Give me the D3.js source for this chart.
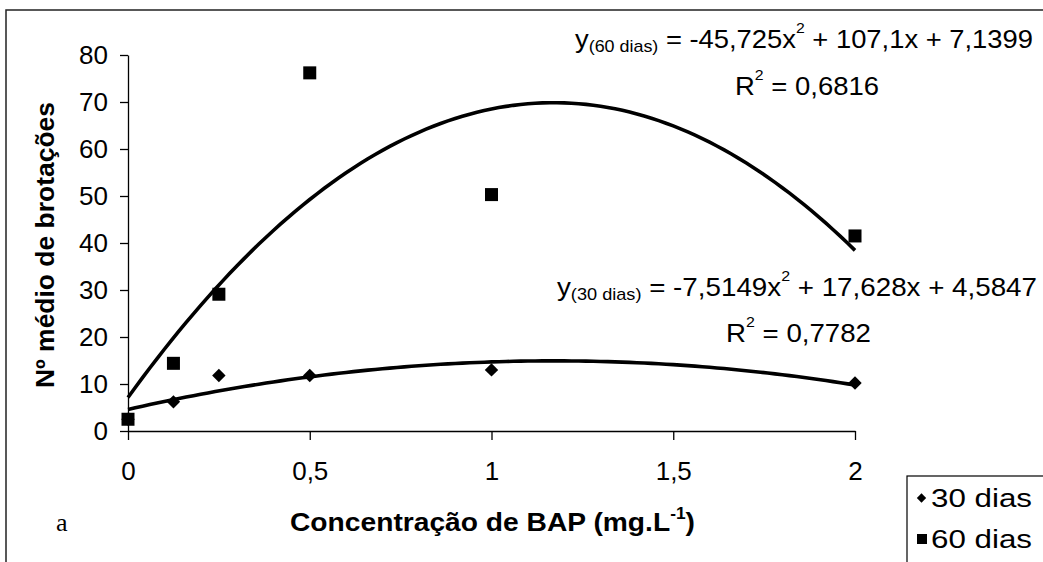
<!DOCTYPE html>
<html><head><meta charset="utf-8">
<script src="https://cdn.jsdelivr.net/npm/d3@7"></script>
<style>body{margin:0;background:#fff}svg{display:block}</style>
</head><body>
<svg id="c" width="1043" height="562"></svg>
<script>
// ---- data ----
const xValues = [0, 0.125, 0.25, 0.5, 1, 2];
const dias30 = [2.5, 6.2, 11.8, 11.8, 13.0, 10.2];
const dias60 = [2.5, 14.4, 29.1, 76.2, 50.3, 41.5];
const coef30 = [-7.5149, 17.628, 4.5847];   // a, b, c  (trendline shown on chart)
const coef60 = [-45.725, 107.1, 7.1399];
const xTicks = [0, 0.5, 1, 1.5, 2];
const xTickLabels = ["0", "0,5", "1", "1,5", "2"];
const yTicks = [0, 10, 20, 30, 40, 50, 60, 70, 80];
const seriesNames = ["30 dias", "60 dias"];

const FONT = "'Liberation Sans', Arial, sans-serif";
const svg = d3.select("#c");

const x = d3.scaleLinear().domain([0, 2]).range([128, 855]);
const y = d3.scaleLinear().domain([0, 80]).range([431, 55]);

// outer frame
svg.append("rect").attr("x", 6).attr("y", 10).attr("width", 1100).attr("height", 600)
  .attr("fill", "none").attr("stroke", "#222").attr("stroke-width", 1.5);

// axes
const gx = svg.append("g").attr("transform", `translate(0,${y(0)})`)
  .call(d3.axisBottom(x).tickValues(xTicks).tickFormat((d, i) => xTickLabels[i])
    .tickSize(9).tickSizeOuter(0).tickPadding(21.5));
const gy = svg.append("g").attr("transform", `translate(${x(0)},0)`)
  .call(d3.axisLeft(y).tickValues(yTicks).tickFormat(d3.format("d"))
    .tickSize(8).tickSizeOuter(0).tickPadding(12));
[gx, gy].forEach(g => {
  g.attr("font-family", FONT).attr("font-size", 26);
  g.selectAll("text").attr("fill", "#000");
  g.selectAll("line,path").attr("stroke", "#000").attr("stroke-width", 1.3);
});

// trendlines from the equations displayed on the chart
const xs = d3.range(0, 2.0001, 0.02);
const line = d3.line().x(d => x(d[0])).y(d => y(d[1]));
[coef30, coef60].forEach(c => {
  svg.append("path")
    .datum(xs.map(v => [v, c[0] * v * v + c[1] * v + c[2]]))
    .attr("d", line).attr("fill", "none").attr("stroke", "#000")
    .attr("stroke-width", 3.6).attr("stroke-linejoin", "round");
});

// markers
svg.append("g").selectAll("path").data(xValues.map((v, i) => [v, dias30[i]])).join("path")
  .attr("transform", d => `translate(${x(d[0])},${y(d[1])})`)
  .attr("d", d3.symbol().type(d3.symbolDiamond2).size(115)).attr("fill", "#000");
svg.append("g").selectAll("rect").data(xValues.map((v, i) => [v, dias60[i]])).join("rect")
  .attr("x", d => x(d[0]) - 6.5).attr("y", d => y(d[1]) - 6.5)
  .attr("width", 13).attr("height", 13).attr("fill", "#000");

// helper for rich text
function rich(xp, yp, parts, opts) {
  const t = svg.append("text").attr("x", xp).attr("y", yp)
    .attr("font-family", opts.family || FONT).attr("font-size", opts.size)
    .attr("font-weight", opts.weight || "normal").attr("fill", "#000");
  if (opts.anchor) t.attr("text-anchor", opts.anchor);
  if (opts.len) t.attr("textLength", opts.len).attr("lengthAdjust", "spacingAndGlyphs");
  if (opts.transform) t.attr("transform", opts.transform);
  parts.forEach(p => {
    const s = t.append("tspan").text(p.t);
    if (p.size) s.attr("font-size", p.size);
    if (p.dy) s.attr("dy", p.dy);
  });
  return t;
}

// equations
rich(575, 47.5, [
  {t: "y"}, {t: "(60 dias)", size: 17, dy: 4}, {t: " = -45,725x", dy: -4},
  {t: "2", size: 15, dy: -15}, {t: " + 107,1x + 7,1399", dy: 15}
], {size: 26, len: 458});
rich(735, 95, [{t: "R"}, {t: "2", size: 15, dy: -15}, {t: " = 0,6816", dy: 15}], {size: 26, len: 144});

rich(557, 296, [
  {t: "y"}, {t: "(30 dias)", size: 17, dy: 4}, {t: " = -7,5149x", dy: -4},
  {t: "2", size: 15, dy: -15}, {t: " + 17,628x + 4,5847", dy: 15}
], {size: 26, len: 480});
rich(726, 342, [{t: "R"}, {t: "2", size: 15, dy: -15}, {t: " = 0,7782", dy: 15}], {size: 26, len: 145});

// axis titles
rich(290, 531, [{t: "Concentração de BAP (mg.L"}, {t: "-1", size: 16, dy: -12}, {t: ")", dy: 12}],
  {size: 26, weight: "bold", len: 405});
rich(0, 0, [{t: "Nº médio de brotações"}],
  {size: 25, weight: "bold", anchor: "middle", len: 286, transform: "translate(54,245) rotate(-90)"});

// panel letter
svg.append("text").attr("x", 56).attr("y", 531).attr("font-family", "'Liberation Serif', 'Times New Roman', serif")
  .attr("font-size", 26).attr("fill", "#000").text("a");

// legend
svg.append("rect").attr("x", 907).attr("y", 476).attr("width", 150).attr("height", 100)
  .attr("fill", "#fff").attr("stroke", "#000").attr("stroke-width", 1.2);
const leg = svg.append("g");
leg.append("path").attr("transform", "translate(921.5,498)").attr("d", d3.symbol().type(d3.symbolDiamond2).size(55)).attr("fill", "#000");
leg.append("rect").attr("x", 917).attr("y", 534).attr("width", 10).attr("height", 10).attr("fill", "#000");
seriesNames.forEach((n, i) => {
  svg.append("text").attr("x", 931).attr("y", 507 + i * 41).attr("font-family", FONT)
    .attr("font-size", 26).attr("textLength", 101).attr("lengthAdjust", "spacingAndGlyphs")
    .attr("fill", "#000").text(n);
});
</script>
</body></html>
